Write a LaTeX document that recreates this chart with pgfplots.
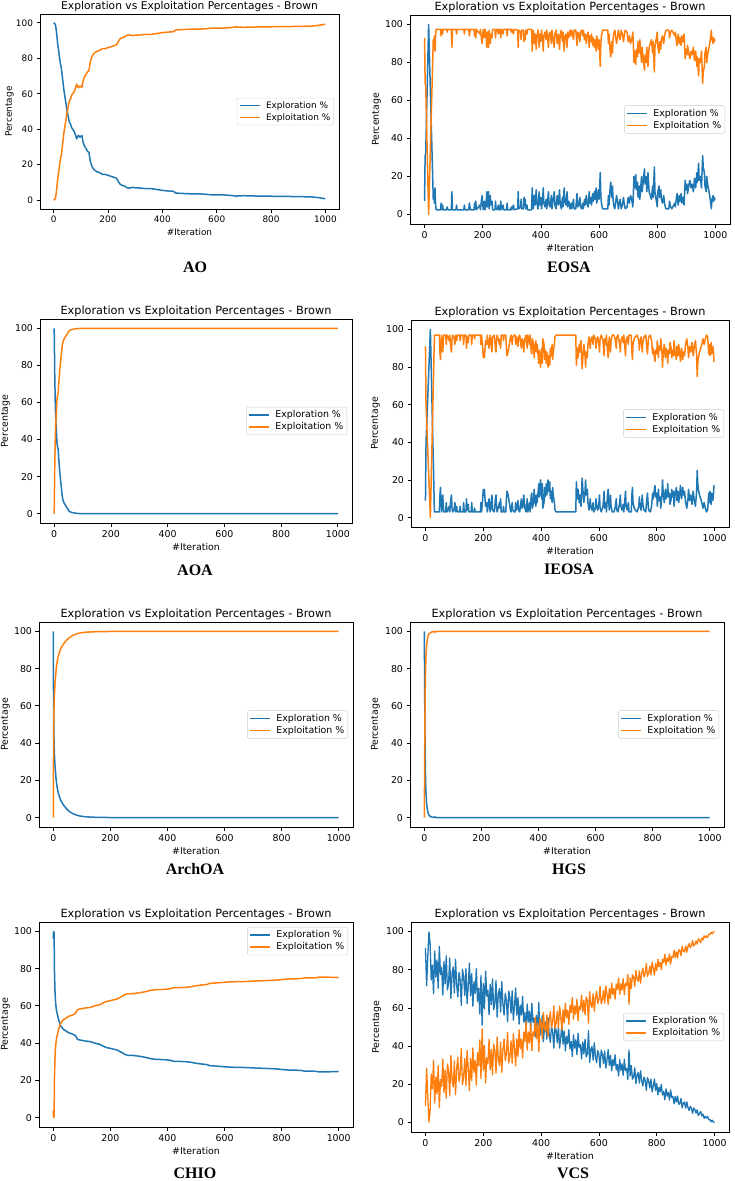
\documentclass[border=0pt]{standalone}
\usepackage{fontspec}
\setmainfont{DejaVu Sans}
\newfontfamily\capfont{Liberation Serif}
\usepackage{pgfplots}
\usepackage{pgfplotstable}
\pgfplotsset{compat=1.18}
\definecolor{tabblue}{HTML}{1F77B4}
\definecolor{taborange}{HTML}{FF7F0E}

\pgfplotsset{
 every axis title/.style={at={(0.5,1)}, anchor=base, yshift=4.3pt, inner sep=0pt},
 eeaxis/.style 2 args={
  scale only axis,
  xmin=-50,xmax=1050,ymin=-5,ymax=105,
  xtick={0,200,400,600,800,1000}, ytick={0,20,40,60,80,100},
  tick align=outside, tick pos=left,
  major tick length=3.5pt,
  axis line style={line width=0.8pt},
  every tick/.append style={line width=0.8pt, black},
  tick label style={font=\fontsize{#1}{#1}\selectfont},
  label style={font=\fontsize{#1}{#1}\selectfont},
  title style={font=\fontsize{#2}{#2}\selectfont},
  title={Exploration vs Exploitation Percentages - Brown},
  xlabel={\#Iteration}, ylabel={Percentage},
  xlabel style={at={(axis description cs:0.5,0)}, anchor=base, yshift=-27.5pt, inner sep=0pt},
  legend style={font=\fontsize{#1}{#1}\selectfont, draw=black!20, rounded corners=2pt, inner xsep=2pt, inner ysep=2pt, column sep=4pt, row sep=0.5pt, nodes={inner sep=1.5pt}, at={(1,0.5)}, xshift=-5pt, anchor=east},
  legend cell align=left,
  legend image code/.code={\draw[##1, line width=1.6pt] (0pt,0pt) -- (20pt,0pt);},
  /pgf/number format/assume math mode=true,
  /pgf/number format/1000 sep={},
 },
 bl/.style={tabblue, line width=1.5pt, line join=round, mark=none},
 ol/.style={taborange, line width=1.5pt, line join=round, mark=none},
}

% ---------------- data: exploration % (exploitation = 100 - exploration)
\pgfplotstableread{
x e
0 100
5 99.5
8 98
12 93
15 88
18 85
22 80
25 77
28 75
32 70
35 66
38 62
42 58
46 54
50 50
54 47
58 44
62 43
66 41
70 40
75 39
80 37
85 34.5
88 36
92 36.5
96 35.5
100 36
104 36.5
108 33
112 31
116 30
120 29
125 27.5
130 27
135 22
140 19.5
145 18
150 17
160 16
170 15.5
180 14.5
190 14.5
200 14
210 13.5
220 13
230 12.5
235 11.5
240 10
245 9
250 8.5
260 8
270 7
280 6.8
290 7.2
300 7
320 6.8
340 6.5
360 6.5
380 6
400 5.5
420 5.2
440 5
450 4
470 3.8
500 3.6
540 3.5
560 3.3
580 3
620 3
650 2.7
670 2.3
700 2.5
750 2.3
800 2.2
850 2.1
900 2
950 1.8
970 1.5
990 1
1000 0.8
}\tAO

\pgfplotstableread{
x e
0 7
2 31
4 32
14 100
30 8
32 13
34 6
36 14
38 5
40 2.5
55 2.5
57 6
59 2.5
62 5
64 2.5
75 2.5
78 4
80 2.5
92 2.5
94 12
96 2.5
108 2.5
110 5
112 2.5
135 2.5
137 5
139 2.5
152 2.5
154 6
156 4
158 2.5
170 2.5
172 6
174 3
176 7
178 2.5
190 5
192 2.5
196 8
198 10
200 5
202 2.5
206 7
208 2.5
212 6
214 12
216 4
218 8
220 12
222 3
226 10
228 5
232 7
234 2.5
242 2.5
244 7
246 3
250 2.5
254 5
256 2.5
260 2.5
262 7
264 2.5
270 5
272 2.5
282 2.5
284 6
286 2.5
296 2.5
298 4
300 2.5
306 5
308 2.5
320 3
322 12
324 3
330 4
332 8
334 3
340 3
342 9
344 5
346 8
348 3
352 5
354 2.5
368 2.5
370 14
372 8
374 3
378 10
380 5
384 13
386 6
390 3
394 12
396 5
400 9
402 3
406 8
408 14
410 6
414 4
418 8
420 3
426 12
428 5
432 4
436 10
438 3
442 8
446 12
448 5
452 3
456 10
460 5
464 13
466 6
470 3
474 9
476 4
480 14
482 7
486 5
490 12
492 4
496 7
500 3
504 6
506 3
512 8
514 3
520 3
524 11
526 4
530 5
534 9
536 4
540 3
544 6
546 3
550 8
552 5
556 10
558 6
562 4
566 12
568 6
572 9
574 5
578 11
580 7
584 12
586 8
590 14
592 6
596 10
598 13
600 8
604 22
606 10
608 6
612 3
630 3
632 10
634 5
638 14
640 17
642 12
644 9
646 15
648 8
650 5
654 3
660 10
664 6
666 3
672 8
676 3
680 5
684 9
686 6
690 3
696 4
700 9
704 6
708 10
712 8
716 4
720 20
722 14
726 21
728 13
732 17
734 9
738 15
740 8
746 20
748 12
752 18
756 24
758 16
762 20
764 12
768 22
772 12
776 10
780 8
784 15
786 9
790 25
792 12
796 8
800 4
802 12
806 15
808 9
812 13
814 8
818 6
822 10
826 5
830 3
840 3
842 7
846 4
850 3
860 6
862 4
866 9
868 11
872 5
876 10
878 7
882 11
884 6
888 9
892 5
896 18
898 13
902 16
904 11
908 15
912 18
916 14
920 16
924 12
928 19
932 14
936 22
938 17
942 27
944 18
948 20
952 14
956 31
958 25
962 22
964 15
968 12
970 20
974 15
978 12
982 8
986 3
988 8
992 10
994 7
996 9
998 8
1000 8
}\tEOSA

\pgfplotstableread{
x e
0 100
1 88
2 75
4 58
6 50
8 44
10 38
12 36
14 35
16 30
18 26
20 22
22 19
24 16
26 13
28 10
30 8
33 6.5
36 5.5
40 4.5
44 3.5
48 2.5
52 1.5
56 1
60 0.8
70 0.4
80 0.2
90 0.1
100 0.05
200 0
1000 0
}\tAOA

\pgfplotstableread{
x e
0 9
2 40
17 100
31 3
48 3
50 12
52 16
54 8
56 3
60 12
62 5
64 3
70 3
72 8
74 3
78 4
82 6
84 3
88 10
90 12
92 5
94 3
100 5
102 8
104 3
108 6
110 3
118 3
120 6
122 3
130 3
132 8
134 3
140 3
142 10
144 4
148 7
150 3
158 3
160 8
162 3
168 3
170 5
172 3
190 3
192 8
194 3
198 10
200 15
202 12
204 15
206 10
208 6
212 8
214 3
220 10
222 6
224 3
230 12
232 4
238 3
242 10
244 12
246 5
248 3
256 8
258 5
260 10
262 3
268 3
270 6
272 3
278 3
280 10
282 14
284 13
286 12
288 10
290 8
294 4
296 3
300 8
302 4
306 3
310 3
312 8
314 4
318 6
320 9
322 4
326 3
330 8
332 10
334 5
338 6
340 12
342 8
344 5
348 3
352 10
354 3
358 6
360 8
362 3
366 12
368 13
370 5
374 8
376 15
378 10
382 6
384 12
386 8
390 14
392 18
394 11
398 20
400 15
402 10
404 18
406 5
410 8
412 16
414 11
418 18
420 12
424 20
426 14
430 19
432 10
436 14
438 8
440 16
442 12
446 8
448 4
452 3
520 3
522 19
524 14
526 10
528 15
532 8
534 12
538 6
542 21
544 16
546 12
548 8
552 14
554 20
556 12
560 15
562 8
566 4
570 10
572 6
576 4
580 8
582 3
588 5
590 10
592 6
596 4
600 8
602 12
604 5
608 3
614 6
616 10
618 14
620 5
624 8
626 3
630 12
632 15
634 8
636 4
640 12
642 6
646 3
652 3
656 5
660 10
662 4
666 3
672 8
674 12
676 6
680 4
684 7
686 3
690 10
692 14
694 6
698 4
702 8
704 3
712 3
714 12
716 16
718 8
722 5
726 4
732 3
738 6
740 11
742 6
746 4
750 12
752 7
756 4
762 3
766 10
768 13
770 8
772 4
778 3
782 6
786 13
788 10
792 15
794 17
796 11
800 13
802 6
806 15
808 9
812 11
814 5
818 12
820 20
822 14
826 8
830 15
832 10
836 12
838 18
840 11
844 13
846 7
850 10
852 15
854 11
858 14
860 6
864 13
868 16
870 9
874 14
876 8
880 13
882 17
886 10
890 16
892 12
896 14
900 8
904 5
908 10
910 15
914 9
918 12
922 7
926 14
930 9
934 6
938 14
940 25
942 18
944 15
948 12
952 10
956 8
960 5
964 8
968 5
972 3
976 4
980 13
982 8
984 14
988 7
990 13
994 9
996 12
998 17
1000 17
}\tIEOSA

\pgfplotstableread{
x e
0 100
1 60
2 45
3.5 36
6 28
9.5 21.5
12 18
15 15
20 12
27 9
35 7
45 5
55 3.5
68 2.2
80 1.5
90 1
100 0.75
115 0.45
150 0.2
200 0.08
300 0.02
1000 0
}\tArch

\pgfplotstableread{
x e
0 100
1 80
2 52
3 35
4 25
5 18
6 13
8 8
10 5.5
12 3.5
14 2.2
17 1.3
20 0.8
24 0.5
28 0.3
35 0.1
38 0.5
41 0.1
50 0
1000 0
}\tHGS

\pgfplotstableread{
x e
0 96
1 100
2 97
3 99.5
4 80
6 68
8 62
10 59
12 57
15 55
18 53
21 51.5
24 50
27 49
30 48.5
35 47.5
40 47
45 46.5
50 46
55 45.5
60 45.3
65 45
70 44.7
75 44.3
80 43.5
85 42
90 41.8
100 41.5
110 41.2
120 41
130 40.8
140 40.3
150 39.8
160 39.5
170 38.8
180 38
190 37.5
200 37.2
210 36.8
220 36.5
230 35.8
240 35
250 34
260 33.5
270 33.5
280 33.4
300 33
320 32.5
340 31.7
360 31.3
380 31.2
400 31
410 30.8
420 30.3
440 30.2
460 30.1
480 29.8
500 29.2
520 28.8
540 28.5
545 28
560 27.8
580 27.6
600 27.3
620 27.1
650 27
680 26.9
700 26.7
720 26.6
750 26.4
780 26.2
800 25.9
820 25.6
850 25.5
870 25.3
880 25
900 25
920 24.9
930 24.6
960 24.6
1000 24.8
}\tCHIO

\pgfplotstableread{
x e
0 91.4
4 71.6
8 86.5
12 99.8
16 94.0
20 74.6
24 82.4
28 67.4
32 89.8
36 76.1
40 85.1
44 70.3
48 92.2
52 77.5
56 81.1
60 66.7
64 84.3
68 72.6
72 87.3
76 69.4
80 72.9
84 86.1
88 65.0
92 78.0
96 81.4
100 67.8
104 85.5
108 72.0
112 65.8
116 78.7
120 74.8
124 61.3
128 80.2
132 76.4
136 66.5
140 80.6
144 62.3
148 71.6
152 83.4
156 66.3
160 78.0
164 60.9
168 73.8
172 67.6
176 80.5
180 63.4
184 70.3
188 56.8
192 77.0
196 51.0
200 72.8
204 59.5
208 79.3
212 66.1
216 69.3
220 56.4
224 72.4
228 61.7
232 75.2
236 59.0
240 62.2
244 74.3
248 55.2
252 67.1
256 70.1
260 57.9
264 73.8
268 61.8
272 56.3
276 67.6
280 64.2
284 52.7
288 68.8
292 65.6
296 57.2
300 69.0
304 53.6
308 61.0
312 70.4
316 56.2
320 65.4
324 51.5
328 61.4
332 56.3
336 66.1
340 52.6
344 57.6
348 47.2
352 62.1
356 52.6
360 58.3
364 48.2
368 62.4
372 52.5
376 54.6
380 44.8
384 56.1
388 48.1
392 63.0
396 45.6
400 47.6
404 56.1
408 42.3
412 50.6
416 52.6
420 43.7
424 55.1
428 46.3
432 42.0
436 50.1
440 47.6
444 38.9
448 50.7
452 48.1
456 41.8
460 50.4
464 39.0
468 44.6
472 51.5
476 41.0
480 47.9
484 37.5
488 45.1
492 41.2
496 48.6
500 38.5
504 42.4
508 34.5
512 46.0
516 38.9
520 43.3
524 35.5
528 46.7
532 39.1
536 40.8
540 33.3
544 42.2
548 36.0
552 43.6
556 34.3
560 35.9
564 48.0
568 31.5
572 38.3
576 39.8
580 32.7
584 41.7
588 34.6
592 31.3
596 37.7
600 35.6
604 28.7
608 37.9
612 35.8
616 30.8
620 37.5
624 28.5
628 32.8
632 38.1
636 29.9
640 35.2
644 27.0
648 32.9
652 29.7
656 35.4
660 27.5
664 30.4
668 24.3
672 32.9
676 27.3
680 30.7
684 24.7
688 33.1
692 27.1
696 28.3
700 22.5
704 38.0
708 24.3
712 29.8
716 22.7
720 23.8
724 28.6
728 20.3
732 25.0
736 26.1
740 20.6
744 27.1
748 21.8
752 19.2
756 23.8
760 22.0
764 16.8
768 23.5
772 21.8
776 18.1
780 22.7
784 16.0
788 19.1
792 22.8
796 16.8
800 20.4
804 14.5
808 18.5
812 16.1
816 20.0
820 14.4
824 16.2
828 11.9
832 17.6
836 13.8
840 15.8
844 11.7
848 17.0
852 13.0
856 13.6
860 9.8
864 13.7
868 10.7
872 13.8
876 9.5
880 10.0
884 12.6
888 7.7
892 10.2
896 10.7
900 7.5
904 10.8
908 7.8
912 6.3
916 8.5
920 7.4
924 4.8
928 7.6
932 6.7
936 4.9
940 6.6
944 3.7
948 4.7
952 5.8
956 3.4
960 4.4
964 2.2
968 3.2
972 2.3
976 3.1
980 1.4
984 1.5
988 0.4
992 1.2
996 0.2
1000 0
}\tVCS

\begin{document}
\begin{tikzpicture}[x=1pt,y=1pt]
\useasboundingbox (0,0) rectangle (734,-1181);

% AO
\begin{axis}[eeaxis={8.9}{10.7}, at={(40pt,-209pt)}, anchor=south west, width=299pt, height=195pt,
  ylabel style={at={(axis description cs:-0.094,0.5)}, anchor=base, inner sep=0pt}, xlabel style={yshift=1.5pt}]
\addplot[bl] table[x=x,y=e]{\tAO};
\addplot[ol] table[x=x,y expr=100-\thisrow{e}]{\tAO};
\legend{Exploration \%, Exploitation \%}
\end{axis}
\node[font=\capfont\bfseries\fontsize{16}{16}\selectfont] at (195,-267) {AO};

% EOSA
\begin{axis}[eeaxis={9.4}{11.3}, at={(410pt,-224pt)}, anchor=south west, width=320pt, height=209pt,
  ylabel style={at={(axis description cs:-0.097,0.5)}, anchor=base, inner sep=0pt}]
\addplot[bl] table[x=x,y=e]{\tEOSA};
\addplot[ol] table[x=x,y expr=100-\thisrow{e}]{\tEOSA};
\legend{Exploration \%, Exploitation \%}
\end{axis}
\node[font=\capfont\bfseries\fontsize{16}{16}\selectfont] at (569,-267) {EOSA};

% AOA
\begin{axis}[eeaxis={9.4}{11.3}, at={(40pt,-523pt)}, anchor=south west, width=312pt, height=204pt,
  ylabel style={at={(axis description cs:-0.103,0.5)}, anchor=base, inner sep=0pt}]
\addplot[bl] table[x=x,y=e]{\tAOA};
\addplot[ol] table[x=x,y expr=100-\thisrow{e}]{\tAOA};
\legend{Exploration \%, Exploitation \%}
\end{axis}
\node[font=\capfont\bfseries\fontsize{16}{16}\selectfont] at (195,-570) {AOA};

% IEOSA
\begin{axis}[eeaxis={9.4}{11.3}, at={(411pt,-527pt)}, anchor=south west, width=318pt, height=207pt,
  ylabel style={at={(axis description cs:-0.104,0.5)}, anchor=base, inner sep=0pt}]
\addplot[bl] table[x=x,y=e]{\tIEOSA};
\addplot[ol] table[x=x,y expr=100-\thisrow{e}]{\tIEOSA};
\legend{Exploration \%, Exploitation \%}
\end{axis}
\node[font=\capfont\bfseries\fontsize{16}{16}\selectfont] at (569,-569) {IEOSA};

% ArchOA
\begin{axis}[eeaxis={9.4}{11.3}, at={(39pt,-827pt)}, anchor=south west, width=314pt, height=205pt,
  ylabel style={at={(axis description cs:-0.099,0.5)}, anchor=base, inner sep=0pt}]
\addplot[bl] table[x=x,y=e]{\tArch};
\addplot[ol] table[x=x,y expr=100-\thisrow{e}]{\tArch};
\legend{Exploration \%, Exploitation \%}
\end{axis}
\node[font=\capfont\bfseries\fontsize{16}{16}\selectfont] at (195,-869) {ArchOA};

% HGS
\begin{axis}[eeaxis={9.4}{11.3}, at={(410pt,-827pt)}, anchor=south west, width=314pt, height=205pt,
  ylabel style={at={(axis description cs:-0.102,0.5)}, anchor=base, inner sep=0pt}]
\addplot[bl] table[x=x,y=e]{\tHGS};
\addplot[ol] table[x=x,y expr=100-\thisrow{e}]{\tHGS};
\legend{Exploration \%, Exploitation \%}
\end{axis}
\node[font=\capfont\bfseries\fontsize{16}{16}\selectfont] at (569,-869) {HGS};

% CHIO
\begin{axis}[eeaxis={9.4}{11.3}, at={(39pt,-1127pt)}, anchor=south west, width=314pt, height=205pt,
  ylabel style={at={(axis description cs:-0.099,0.5)}, anchor=base, inner sep=0pt},
  legend style={at={(1,1)}, anchor=north east, xshift=0pt, yshift=-5pt}]
\addplot[bl] table[x=x,y=e]{\tCHIO};
\addplot[ol] table[x=x,y expr=100-\thisrow{e}]{\tCHIO};
\legend{Exploration \%, Exploitation \%}
\end{axis}
\node[font=\capfont\bfseries\fontsize{16}{16}\selectfont] at (195,-1173) {CHIO};

% VCS
\begin{axis}[eeaxis={9.4}{11.3}, at={(411pt,-1132pt)}, anchor=south west, width=318pt, height=210pt,
  ylabel style={at={(axis description cs:-0.1,0.5)}, anchor=base, inner sep=0pt}]
\addplot[bl, line width=1.3pt] table[x=x,y=e]{\tVCS};
\addplot[ol, line width=1.3pt] table[x=x,y expr=100-\thisrow{e}]{\tVCS};
\legend{Exploration \%, Exploitation \%}
\end{axis}
\node[font=\capfont\bfseries\fontsize{16}{16}\selectfont] at (573,-1173) {VCS};

\end{tikzpicture}
\end{document}
